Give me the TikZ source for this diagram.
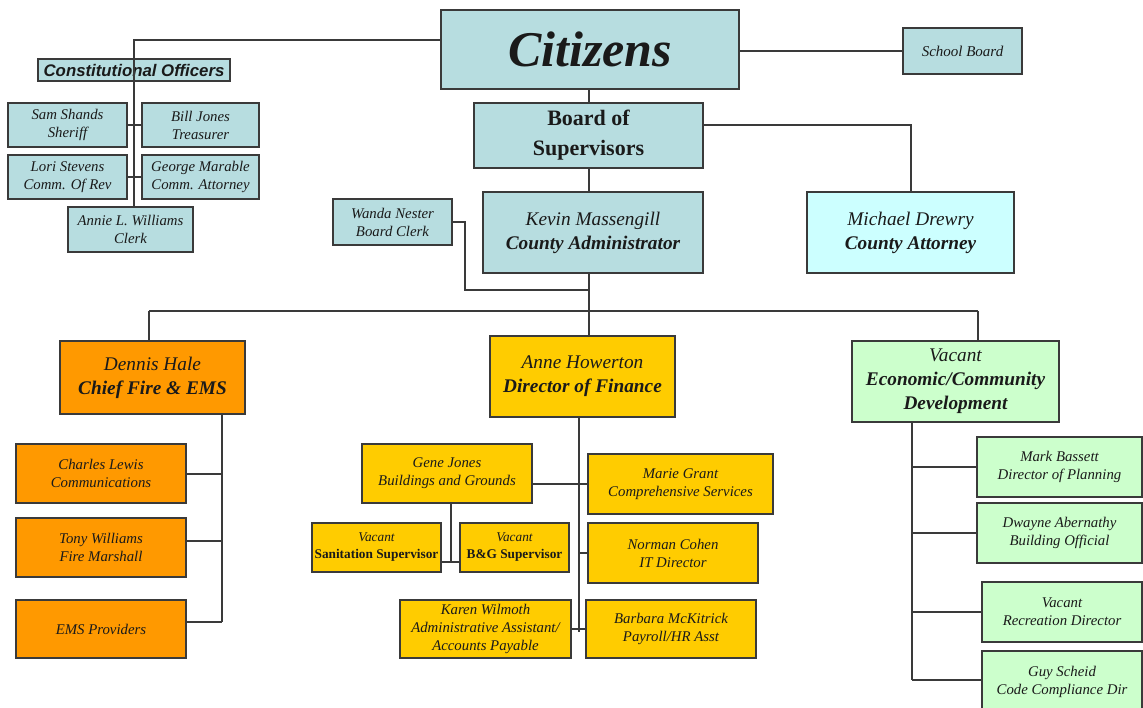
\documentclass[tikz,border=0pt]{standalone}
\usepackage{fontspec}
\setmainfont{Liberation Serif}
\newfontfamily\arialf{Liberation Sans}
\definecolor{linec}{HTML}{3A3A3A}
\definecolor{blueF}{HTML}{B7DDE0}
\definecolor{cyanF}{HTML}{CCFFFF}
\definecolor{orangeF}{HTML}{FF9900}
\definecolor{yellowF}{HTML}{FFCC00}
\definecolor{greenF}{HTML}{CCFFCC}
\definecolor{txt}{HTML}{1A1A1A}
\tikzset{
  box/.style={draw=linec, line width=1.4pt, align=center, inner sep=0pt, text=txt},
  bluebox/.style={box, fill=blueF},
  cyanbox/.style={box, fill=cyanF},
  orangebox/.style={box, fill=orangeF},
  yellowbox/.style={box, fill=yellowF},
  greenbox/.style={box, fill=greenF},
  small/.style={font=\fontsize{14.8}{18}\selectfont\itshape},
  mid/.style={font=\fontsize{19.3}{24}\selectfont},
  conn/.style={draw=linec, line width=1.6pt},
  sz/.style 2 args={minimum width=#1pt, minimum height=#2pt}
}
\begin{document}
\begin{tikzpicture}[x=1pt,y=-1pt]
\fill[white] (0,0) rectangle (1143,707);
\useasboundingbox (0,0) rectangle (1143,707);
\clip (0,0) rectangle (1143,707);

% top level
\node[bluebox, sz={298}{79}, font=\fontsize{50}{55}\selectfont\bfseries\itshape] (cit) at (590,49.5) {Citizens};
\node[bluebox, sz={119}{46}, font=\fontsize{15}{18}\selectfont\itshape] (school) at (962.5,51) {School Board};
\node[bluebox, sz={192}{22}, font=\arialf\fontsize{16.8}{18}\selectfont\bfseries\itshape] (co) at (134,70) {Constitutional Officers};
\node[bluebox, sz={119}{44}, small] (sam) at (67.5,125) {Sam Shands\\Sheriff};
\node[bluebox, sz={117}{44}, small] (bill) at (200.5,125) {Bill Jones\\Treasurer};
\node[bluebox, sz={119}{44}, small] (lori) at (67.5,177) {Lori Stevens\\Comm. Of Rev};
\node[bluebox, sz={117}{44}, small] (george) at (200.5,177) {George Marable\\Comm. Attorney};
\node[bluebox, sz={125}{45}, small] (annie) at (130.5,229.5) {Annie L. Williams\\Clerk};

\node[bluebox, sz={229}{65}, font=\fontsize{22}{30}\selectfont\bfseries] (bos) at (588.5,135.5) {Board of\\Supervisors};
\node[bluebox, sz={220}{81}, mid] (kevin) at (593,232.5) {{\itshape Kevin Massengill}\\{\bfseries\itshape County Administrator}};
\node[cyanbox, sz={207}{81}, mid] (michael) at (910.5,232.5) {{\itshape Michael Drewry}\\{\bfseries\itshape County Attorney}};
\node[bluebox, sz={119}{46}, small] (wanda) at (392.5,222) {Wanda Nester\\Board Clerk};

% departments
\node[orangebox, sz={185}{73}, mid] (dennis) at (152.5,377.5) {{\itshape Dennis Hale}\\{\bfseries\itshape Chief Fire \& EMS}};
\node[yellowbox, sz={185}{81}, mid] (anne) at (582.5,376.5) {{\itshape Anne Howerton}\\{\bfseries\itshape Director of Finance}};
\node[greenbox, sz={207}{81}, mid] (econ) at (955.5,381.5) {{\itshape Vacant}\\{\bfseries\itshape Economic/Community}\\{\bfseries\itshape Development}};

% fire
\node[orangebox, sz={170}{59}, small] (charles) at (101,473.5) {Charles Lewis\\Communications};
\node[orangebox, sz={170}{59}, small] (tony) at (101,547.5) {Tony Williams\\Fire Marshall};
\node[orangebox, sz={170}{58}, small] (ems) at (101,629) {EMS Providers};

% finance
\node[yellowbox, sz={170}{59}, small] (gene) at (447,473.5) {Gene Jones\\Buildings and Grounds};
\node[yellowbox, sz={185}{60}, small] (marie) at (680.5,484) {Marie Grant\\Comprehensive Services};
\node[yellowbox, sz={170}{60}, small] (norman) at (673,553) {Norman Cohen\\IT Director};
\node[yellowbox, sz={170}{58}, small] (barbara) at (671,629) {Barbara McKitrick\\Payroll/HR Asst};
\node[yellowbox, sz={171}{58}, small] (karen) at (485.5,629) {Karen Wilmoth\\Administrative Assistant/\\Accounts Payable};
\node[yellowbox, sz={129}{49}, font=\fontsize{13.3}{17}\selectfont] (sanit) at (376.5,547.5) {{\itshape Vacant}\\{\bfseries Sanitation Supervisor}};
\node[yellowbox, sz={109}{49}, font=\fontsize{13.3}{17}\selectfont] (bg) at (514.5,547.5) {{\itshape Vacant}\\{\bfseries B\&G Supervisor}};

% econ
\node[greenbox, sz={165}{60}, small] (mark) at (1059.5,467) {Mark Bassett\\Director of Planning};
\node[greenbox, sz={165}{60}, small] (dwayne) at (1059.5,533) {Dwayne Abernathy\\Building Official};
\node[greenbox, sz={160}{60}, small] (recre) at (1062,612) {Vacant\\Recreation Director};
\node[greenbox, sz={160}{61}, small] (guy) at (1062,681.5) {Guy Scheid\\Code Compliance Dir};

% junction coordinates
\coordinate (j1) at (134,40);
\coordinate (j2) at (911,125);
\coordinate (jw) at (465,290);
\coordinate (t) at (589,311);
\coordinate (tl) at (149,311);
\coordinate (tr) at (978,311);
\coordinate (dv) at (222,622);
\coordinate (av) at (579,632);
\coordinate (gj) at (451,562);
\coordinate (ev) at (912,680);

% connectors
\draw[conn] (cit.west |- j1) -- (j1) -- (annie.north -| j1);
\draw[conn] (sam.east) -- (bill.west);
\draw[conn] (lori.east) -- (george.west);
\draw[conn] (cit.east |- school.west) -- (school.west);
\draw[conn] (cit.south -| t) -- (bos.north -| t);
\draw[conn] (bos.east |- j2) -- (j2) -- (michael.north -| j2);
\draw[conn] (bos.south -| t) -- (kevin.north -| t);
\draw[conn] (wanda.east) -| (jw) -- (jw -| t);
\draw[conn] (kevin.south -| t) -- (t);
\draw[conn] (tl) -- (tr);
\draw[conn] (tl) -- (dennis.north -| tl);
\draw[conn] (t) -- (anne.north -| t);
\draw[conn] (tr) -- (econ.north -| tr);

\draw[conn] (dennis.south -| dv) -- (dv);
\draw[conn] (charles.east |- 0,474) -- (dv |- 0,474);
\draw[conn] (tony.east |- 0,541) -- (dv |- 0,541);
\draw[conn] (ems.east |- dv) -- (dv);

\draw[conn] (anne.south -| av) -- (av);
\draw[conn] (gene.east |- marie.west) -- (marie.west);
\draw[conn] (norman.west -| av) -- (norman.west);
\draw[conn] (karen.east) -- (barbara.west);
\draw[conn] (gene.south -| gj) -- (gj);
\draw[conn] (sanit.east |- gj) -- (bg.west |- gj);

\draw[conn] (econ.south -| ev) -- (ev);
\draw[conn] (mark.west -| ev) -- (mark.west);
\draw[conn] (dwayne.west -| ev) -- (dwayne.west);
\draw[conn] (recre.west -| ev) -- (recre.west);
\draw[conn] (ev) -- (guy.west |- ev);
\end{tikzpicture}
\end{document}
